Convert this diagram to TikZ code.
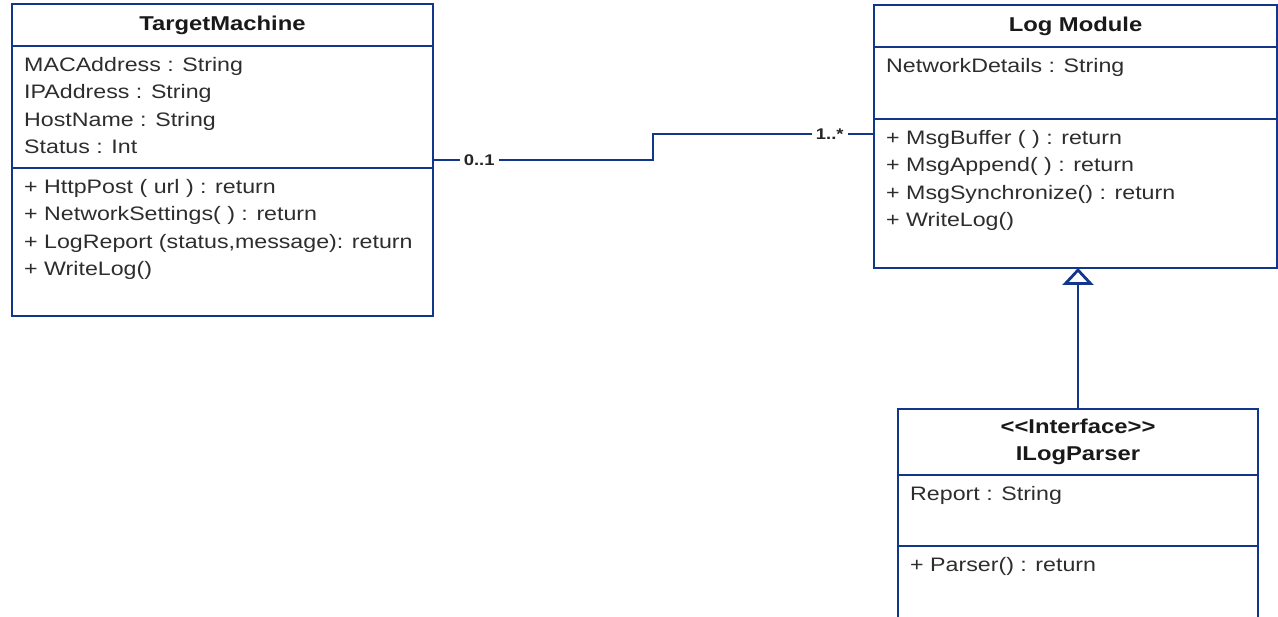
\documentclass[tikz,border=0pt]{standalone}
\usepackage{fontspec}
\setmainfont{Liberation Sans}[FakeStretch=1.19]
\usetikzlibrary{positioning,arrows.meta}
\definecolor{umlblue}{RGB}{18,54,138}
\definecolor{umltext}{RGB}{45,45,45}
\newcommand{\memberfont}{\fontsize{19.5pt}{27.5pt}\selectfont}
\newcommand{\headfont}{\fontsize{20pt}{27pt}\selectfont\bfseries}
\newcommand{\multfont}{\fontsize{15.5pt}{18pt}\selectfont\bfseries}

\begin{document}
\begin{tikzpicture}[x=1pt,y=-1pt]
    \tikzstyle{compart}=[rectangle,draw=umlblue,line width=2.8pt,outer sep=0pt,inner sep=0pt,anchor=north west]
    \tikzstyle{head}=[compart,font=\headfont,text=black!90,align=center]
    \tikzstyle{members}=[anchor=north west,align=left,inner xsep=12pt,inner ysep=5.75pt,font=\memberfont,text=umltext]
    \tikzstyle{mult}=[fill=white,inner sep=4pt,font=\multfont,text=black!85]
    \tikzstyle{assoc}=[draw=umlblue,line width=2.8pt]
    \tikzstyle{realize}=[assoc,-{Triangle[open,width=31pt,length=17pt]}]

    \useasboundingbox (0,0) rectangle (1278,617);

    \node(tmHead) [head,minimum width=421pt,minimum height=42pt] at (12,4) {TargetMachine};
    \node(tmAttr) [compart,below=0pt of tmHead.south west,anchor=north west,minimum width=421pt,minimum height=122pt] {};
    \node(tmMeth) [compart,below=0pt of tmAttr.south west,anchor=north west,minimum width=421pt,minimum height=148pt] {};
    \node(tmAttrTxt) [members] at (tmAttr.north west) {\strut MACAddress : String\\\strut IPAddress : String\\\strut HostName : String\\\strut Status : Int};
    \node(tmMethTxt) [members] at (tmMeth.north west) {\strut + HttpPost ( url ) : return\\\strut + NetworkSettings( ) : return\\\strut + LogReport (status,message): return\\\strut + WriteLog()};

    \node(lmHead) [head,minimum width=403pt,minimum height=42pt] at (874,5) {Log Module};
    \node(lmAttr) [compart,below=0pt of lmHead.south west,anchor=north west,minimum width=403pt,minimum height=72pt] {};
    \node(lmMeth) [compart,below=0pt of lmAttr.south west,anchor=north west,minimum width=403pt,minimum height=149pt] {};
    \node(lmAttrTxt) [members] at (lmAttr.north west) {\strut NetworkDetails : String};
    \node(lmMethTxt) [members] at (lmMeth.north west) {\strut + MsgBuffer ( ) : return\\\strut + MsgAppend( ) : return\\\strut + MsgSynchronize() : return\\\strut + WriteLog()};

    \node(ilpHead) [head,minimum width=360pt,minimum height=66pt] at (898,409) {{<}{<}Interface{>}{>}\\ILogParser};
    \node(ilpAttr) [compart,below=0pt of ilpHead.south west,anchor=north west,minimum width=360pt,minimum height=71pt] {};
    \node(ilpMeth) [compart,below=0pt of ilpAttr.south west,anchor=north west,minimum width=360pt,minimum height=90pt] {};
    \node(ilpAttrTxt) [members] at (ilpAttr.north west) {\strut Report : String};
    \node(ilpMethTxt) [members] at (ilpMeth.north west) {\strut + Parser() : return};

    \coordinate(tmLink) at ([yshift=8pt]tmAttr.south east);
    \coordinate(lmLink) at ([yshift=-15pt]lmMeth.north west);
    \coordinate(bend) at (653,0);

    \draw [assoc] (tmLink) -- node[mult,pos=0.21] {0..1} (tmLink -| bend) -- (lmLink -| bend) -- node[mult,pos=0.8] {1..*} (lmLink);
    \draw [realize] (ilpHead.north) -- (ilpHead.north |- lmMeth.south);

\end{tikzpicture}
\end{document}
